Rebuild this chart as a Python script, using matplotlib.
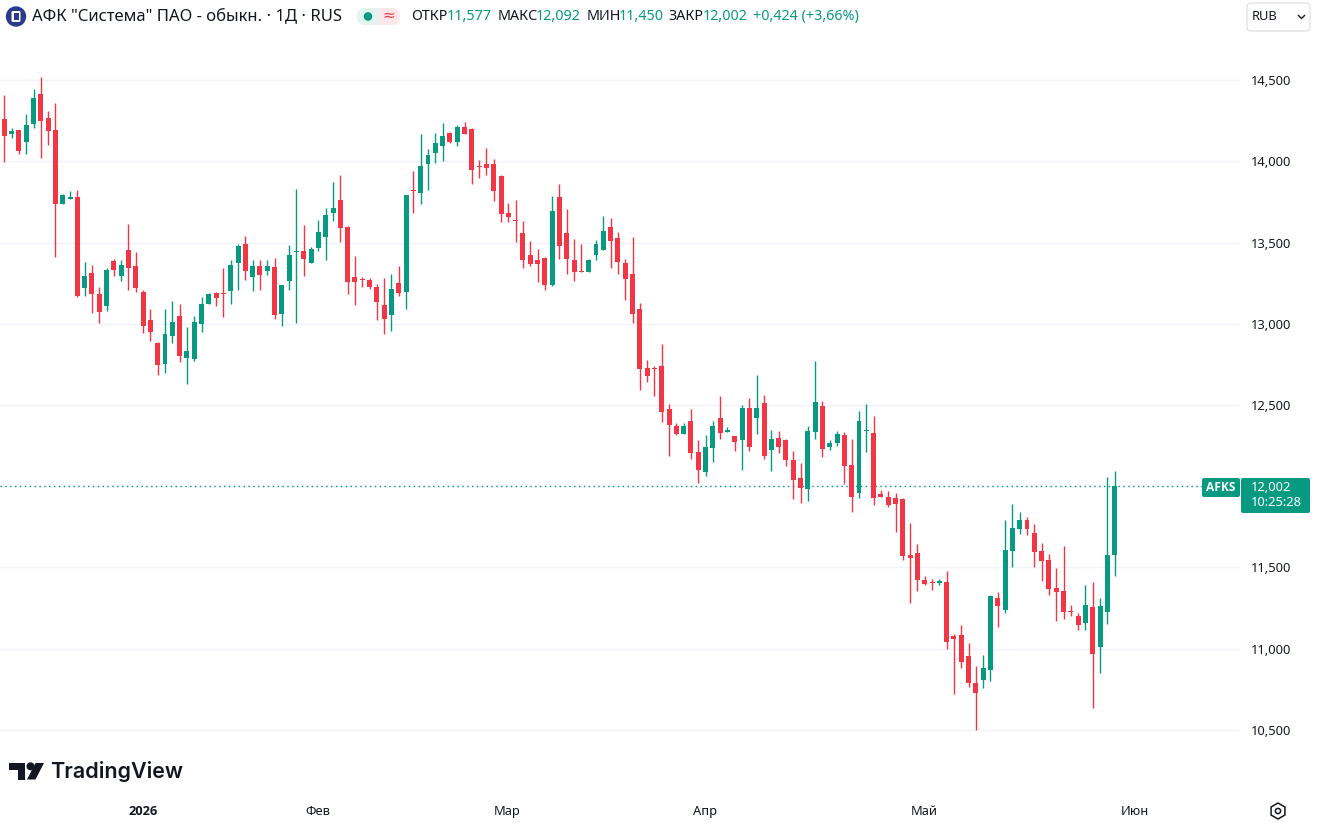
import numpy as np
import matplotlib
matplotlib.use("Agg")
import matplotlib.pyplot as plt
from matplotlib.patches import FancyBboxPatch, Rectangle, Circle, Polygon, RegularPolygon
from matplotlib.ticker import FuncFormatter

# ---------------- data (RUB) ----------------
open_ = [14.258, 14.166, 14.190, 14.120, 14.231, 14.414, 14.266, 14.192, 13.739, 13.770,
         13.780, 13.222, 13.314, 13.183, 13.111, 13.386, 13.296, 13.454, 13.355, 13.195,
         13.023, 12.882, 12.754, 12.926, 13.048, 12.791, 12.785, 13.000, 13.124, 13.189,
         13.189, 13.203, 13.376, 13.491, 13.290, 13.355, 13.326, 13.349, 13.062, 13.265,
         13.443, 13.448, 13.376, 13.468, 13.536, 13.683, 13.762, 13.596, 13.288, 13.277,
         13.269, 13.226, 13.115, 13.056, 13.251, 13.197, 13.820, 13.806, 13.985, 14.053,
         14.096, 14.174, 14.120, 14.211, 14.198, 13.971, 13.985, 13.985, 13.911, 13.683,
         13.634, 13.558, 13.425, 13.394, 13.406, 13.240, 13.780, 13.558, 13.394, 13.325,
         13.320, 13.425, 13.456, 13.596, 13.528, 13.374, 13.306, 13.091, 12.730, 12.725,
         12.742, 12.475, 12.371, 12.323, 12.402, 12.213, 12.090, 12.237, 12.420, 12.336,
         12.309, 12.286, 12.481, 12.422, 12.512, 12.225, 12.299, 12.286, 12.161, 12.052,
         11.985, 12.336, 12.494, 12.243, 12.266, 12.315, 12.131, 11.960, 12.342, 12.328,
         11.954, 11.936, 11.930, 11.923, 11.579, 11.591, 11.425, 11.410, 11.406, 11.409,
         11.078, 11.085, 10.957, 10.791, 10.809, 10.871, 11.314, 11.240, 11.603, 11.739,
         11.792, 11.712, 11.601, 11.548, 11.376, 11.355, 11.230, 11.203, 11.160, 11.259,
         11.013, 11.226, 11.577]
high = [14.408, 14.203, 14.195, 14.291, 14.445, 14.518, 14.309, 14.358, 13.800, 13.817,
        13.823, 13.380, 13.362, 13.226, 13.341, 13.398, 13.392, 13.614, 13.442, 13.210,
        13.091, 12.885, 13.091, 13.140, 13.122, 12.982, 13.048, 13.165, 13.191, 13.195,
        13.343, 13.392, 13.491, 13.540, 13.392, 13.392, 13.392, 13.405, 13.240, 13.485,
        13.829, 13.608, 13.472, 13.638, 13.712, 13.872, 13.915, 13.600, 13.417, 13.290,
        13.283, 13.245, 13.283, 13.306, 13.355, 13.795, 13.940, 14.168, 14.075, 14.174,
        14.235, 14.180, 14.223, 14.242, 14.205, 14.008, 14.082, 14.016, 13.917, 13.743,
        13.763, 13.632, 13.511, 13.462, 13.410, 13.786, 13.860, 13.706, 13.523, 13.491,
        13.398, 13.515, 13.663, 13.651, 13.565, 13.398, 13.534, 13.128, 12.779, 12.742,
        12.875, 12.508, 12.391, 12.391, 12.475, 12.286, 12.317, 12.402, 12.557, 12.366,
        12.312, 12.500, 12.545, 12.686, 12.563, 12.346, 12.342, 12.290, 12.217, 12.143,
        12.371, 12.771, 12.525, 12.285, 12.340, 12.334, 12.291, 12.463, 12.506, 12.432,
        11.979, 11.973, 11.960, 11.926, 11.774, 11.646, 11.450, 11.431, 11.431, 11.478,
        11.093, 11.148, 11.037, 10.896, 10.960, 11.333, 11.351, 11.792, 11.893, 11.842,
        11.811, 11.768, 11.651, 11.585, 11.499, 11.632, 11.271, 11.222, 11.394, 11.411,
        11.314, 12.057, 12.092]
low = [13.997, 14.145, 14.046, 14.046, 14.206, 14.022, 14.102, 13.413, 13.735, 13.765,
       13.165, 13.173, 13.068, 13.006, 13.080, 13.296, 13.265, 13.210, 13.197, 12.945,
       12.896, 12.686, 12.699, 12.883, 12.766, 12.627, 12.773, 12.951, 13.120, 13.111,
       13.043, 13.124, 13.210, 13.271, 13.203, 13.210, 13.302, 13.031, 12.988, 13.210,
       13.006, 13.296, 13.372, 13.450, 13.394, 13.634, 13.505, 13.185, 13.117, 13.228,
       13.212, 13.025, 12.939, 12.957, 13.173, 13.091, 13.683, 13.739, 13.825, 13.991,
       14.003, 14.115, 14.096, 14.165, 13.862, 13.899, 13.917, 13.757, 13.628, 13.628,
       13.505, 13.345, 13.357, 13.259, 13.210, 13.234, 13.400, 13.308, 13.265, 13.318,
       13.316, 13.394, 13.452, 13.345, 13.308, 13.148, 13.006, 12.594, 12.643, 12.557,
       12.397, 12.188, 12.317, 12.320, 12.170, 12.022, 12.065, 12.151, 12.293, 12.334,
       12.219, 12.102, 12.219, 12.323, 12.170, 12.096, 12.206, 12.126, 11.923, 11.899,
       11.911, 12.291, 12.182, 12.225, 12.250, 12.016, 11.843, 11.930, 12.213, 11.886,
       11.932, 11.874, 11.720, 11.548, 11.280, 11.357, 11.394, 11.364, 11.394, 11.000,
       10.723, 10.883, 10.766, 10.502, 10.760, 10.803, 11.136, 11.222, 11.505, 11.708,
       11.702, 11.505, 11.419, 11.333, 11.173, 11.185, 11.203, 11.117, 11.117, 10.637,
       10.852, 11.154, 11.450]
close = [14.157, 14.186, 14.065, 14.223, 14.389, 14.250, 14.188, 13.739, 13.794, 13.780,
         13.173, 13.294, 13.185, 13.074, 13.333, 13.333, 13.362, 13.345, 13.222, 12.988,
         12.951, 12.748, 12.935, 13.011, 12.803, 12.832, 13.011, 13.122, 13.183, 13.160,
         13.183, 13.362, 13.478, 13.326, 13.355, 13.302, 13.355, 13.056, 13.238, 13.423,
         13.448, 13.400, 13.460, 13.565, 13.669, 13.712, 13.591, 13.259, 13.259, 13.271,
         13.228, 13.136, 13.031, 13.214, 13.191, 13.792, 13.814, 13.971, 14.038, 14.112,
         14.155, 14.120, 14.211, 14.170, 13.948, 13.965, 13.960, 13.819, 13.677, 13.659,
         13.630, 13.394, 13.370, 13.370, 13.240, 13.694, 13.480, 13.400, 13.320, 13.321,
         13.394, 13.491, 13.571, 13.511, 13.382, 13.277, 13.062, 12.723, 12.680, 12.721,
         12.459, 12.379, 12.323, 12.371, 12.206, 12.102, 12.242, 12.371, 12.330, 12.348,
         12.274, 12.481, 12.243, 12.481, 12.188, 12.293, 12.243, 12.163, 12.040, 11.991,
         12.340, 12.518, 12.231, 12.266, 12.321, 12.126, 11.936, 12.402, 12.346, 11.930,
         11.936, 11.886, 11.893, 11.573, 11.560, 11.421, 11.400, 11.406, 11.419, 11.043,
         11.062, 10.917, 10.791, 10.729, 10.881, 11.326, 11.265, 11.608, 11.743, 11.792,
         11.739, 11.597, 11.542, 11.370, 11.351, 11.228, 11.226, 11.148, 11.269, 10.969,
         11.265, 11.578, 12.002]

month_labels = ["2026", "Фев", "Мар", "Апр", "Май", "Июн"]
month_pos = [19.0, 42.9, 68.9, 95.9, 125.9, 154.8]   # position on the bar-index axis
price_ticks = [10.5, 11.0, 11.5, 12.0, 12.5, 13.0, 13.5, 14.0, 14.5]

title = 'АФК "Система" ПАО - обыкн. · 1Д · RUS'
ohlc_names = ["ОТКР", "МАКС", "МИН", "ЗАКР"]
ohlc_vals = ["11,577", "12,092", "11,450", "12,002"]
change_txt = "+0,424 (+3,66%)"
ticker = "AFKS"
countdown = "10:25:28"

# ---------------- style ----------------
plt.rcParams['font.family'] = ['Noto Sans', 'DejaVu Sans']
GREEN = '#089981'
RED = '#F23645'
TXT = '#131722'
GRID = '#F0F3FA'

W, H = 1317, 825
fig = plt.figure(figsize=(W / 100, H / 100), dpi=100)
fig.patch.set_facecolor('white')

AX_L, AX_R, AX_T, AX_B = 0, 1240, 35, 795
ax = fig.add_axes([AX_L / W, 1 - AX_B / H, (AX_R - AX_L) / W, (AX_B - AX_T) / H])

o = np.array(open_); h = np.array(high); l = np.array(low); c = np.array(close)
idx = np.arange(len(c))
colors = np.where(c >= o, GREEN, RED)

ax.vlines(idx, l, h, colors=colors, linewidth=1.0, zorder=3)
body_bottom = np.minimum(o, c)
body_h = np.maximum(np.abs(c - o), 0.0065)
ax.bar(idx, body_h, bottom=body_bottom, width=0.68, color=colors, linewidth=0, zorder=4)

bar_px = 7.305
ax.set_xlim(-4.3 / bar_px, (AX_R - 4.3) / bar_px)
ax.set_ylim(14.5 - (AX_B - 80) / 162.5, 14.5 + (80 - AX_T) / 162.5)

for s in ax.spines.values():
    s.set_visible(False)
ax.set_yticks(price_ticks)
ax.yaxis.tick_right()
ax.yaxis.set_major_formatter(FuncFormatter(lambda v, p: f"{v:.3f}".replace('.', ',')))
ax.tick_params(axis='y', length=0, pad=8, labelsize=9.3, labelcolor=TXT)
ax.grid(axis='y', color=GRID, linewidth=1, zorder=0)
ax.set_xticks(month_pos)
ax.set_xticklabels(month_labels)
ax.tick_params(axis='x', length=0, pad=7, labelsize=9.3, labelcolor=TXT)
fig.canvas.draw()
lab0 = ax.xaxis.get_major_ticks()[0].label1
lab0.set_fontfamily(['Open Sans', 'DejaVu Sans'])
lab0.set_fontweight('bold')

ax.axhline(c[-1], color=GREEN, linewidth=1, linestyle=(0, (1, 2.5)), zorder=2)

# ---------------- overlay (pixel coordinates) ----------------
ov = fig.add_axes([0, 0, 1, 1], zorder=10)
ov.set_xlim(0, W)
ov.set_ylim(H, 0)
ov.axis('off')

# symbol icon
ov.add_patch(Circle((16, 16.5), 9.5, color='#2B3A8C'))
ov.add_patch(FancyBboxPatch((11.5, 11), 9, 11, boxstyle="round,pad=0,rounding_size=1.5",
                            fc='white', ec='none'))
ov.add_patch(Rectangle((13.5, 13), 5, 7, fc='#2B3A8C', ec='none'))
ov.text(32, 16.5, title, fontsize=12, va='center', ha='left', color=TXT)

# status pill
ov.add_patch(FancyBboxPatch((357, 8), 43, 17, boxstyle="round,pad=0,rounding_size=8.5",
                            fc='#FCE8EA', ec='none'))
ov.add_patch(FancyBboxPatch((357, 8), 22, 17, boxstyle="round,pad=0,rounding_size=8.5",
                            fc='#E3F4F0', ec='none'))
ov.add_patch(Rectangle((372, 8), 7, 17, fc='#E3F4F0', ec='none'))
ov.add_patch(Circle((368, 16.5), 3.6, color=GREEN))
ov.text(389, 16.5, "≈", fontsize=11, va='center', ha='center', color=RED)

# OHLC readout
name_x = [411, 498, 587, 668]
val_x = [447, 536, 619, 703]
for nm, nx, vv, vx in zip(ohlc_names, name_x, ohlc_vals, val_x):
    ov.text(nx, 16.5, nm, fontsize=10.3, va='center', ha='left', color=TXT)
    ov.text(vx, 16.5, vv, fontsize=10.3, va='center', ha='left', color=GREEN)
ov.text(753, 16.5, change_txt, fontsize=10.3, va='center', ha='left', color=GREEN)

# currency box
ov.add_patch(FancyBboxPatch((1247, 3), 63, 28, boxstyle="round,pad=0,rounding_size=4",
                            fc='white', ec='#E0E3EB', lw=1))
ov.text(1252, 17, "RUB", fontsize=9.3, va='center', ha='left', color=TXT)
ov.plot([1298.5, 1301.5, 1304.5], [15.5, 18.5, 15.5], color=TXT, lw=1)

# last price tag
ov.add_patch(FancyBboxPatch((1202, 478), 38, 19, boxstyle="round,pad=0,rounding_size=2",
                            fc=GREEN, ec='none'))
ov.text(1221, 487.8, ticker, fontsize=8.6, va='center', ha='center', color='white',
        fontweight='bold', family=['Open Sans', 'DejaVu Sans'])
ov.add_patch(FancyBboxPatch((1241, 478), 69, 35, boxstyle="round,pad=0,rounding_size=2",
                            fc=GREEN, ec='none'))
ov.text(1251, 487.5, ohlc_vals[3], fontsize=9.3, va='center', ha='left', color='white')
ov.text(1251, 503, countdown, fontsize=9.3, va='center', ha='left', color='white')

# TradingView logo
ov.add_patch(Rectangle((9, 763), 16, 6.5, fc=TXT, ec='none'))
ov.add_patch(Rectangle((17.5, 763), 7.5, 16.5, fc=TXT, ec='none'))
ov.add_patch(Circle((30.5, 766.3), 3.3, color=TXT))
ov.add_patch(Polygon([(35.5, 763), (44, 763), (35.5, 779.5), (27, 779.5)], closed=True,
                     fc=TXT, ec='none'))
ov.text(50, 771.5, "TradingView", fontsize=15.5, va='center', ha='left', color=TXT,
        fontweight='semibold', family=['Inter', 'DejaVu Sans'])

# settings icon
ov.add_patch(RegularPolygon((1278, 811), numVertices=6, radius=8, orientation=0,
                            fill=False, ec=TXT, lw=1.1))
ov.add_patch(Circle((1278, 811), 2.6, fill=False, ec=TXT, lw=1.1))

fig.savefig("out.png", dpi=100, facecolor='white')
